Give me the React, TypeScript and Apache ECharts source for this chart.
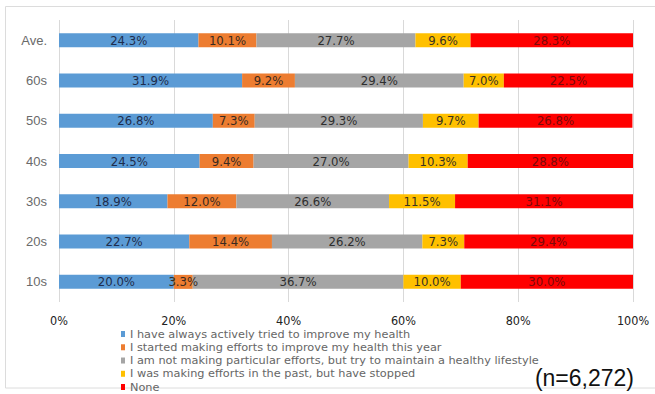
import React, { useEffect, useRef } from "react";
import * as echarts from "echarts";

const categories = ["Ave.", "60s", "50s", "40s", "30s", "20s", "10s"];
const seriesNames = [
  "I have always actively tried to improve my health",
  "I started making efforts to improve my health this year",
  "I am not making particular efforts, but try to maintain a healthy lifestyle",
  "I was making efforts in the past, but have stopped",
  "None",
];
const alwaysActive = [24.3, 31.9, 26.8, 24.5, 18.9, 22.7, 20.0];
const startedThisYear = [10.1, 9.2, 7.3, 9.4, 12.0, 14.4, 3.3];
const notParticular = [27.7, 29.4, 29.3, 27.0, 26.6, 26.2, 36.7];
const stoppedPast = [9.6, 7.0, 9.7, 10.3, 11.5, 7.3, 10.0];
const none = [28.3, 22.5, 26.8, 28.8, 31.1, 29.4, 30.0];
const seriesValues = [alwaysActive, startedThisYear, notParticular, stoppedPast, none];
const colors = ["#5B9BD5", "#ED7D31", "#A5A5A5", "#FFC000", "#FF0000"];
const labelColors = ["#1e2d4d", "#3a2a20", "#2e2e2e", "#3a3220", "#7a0a0a"];
const sampleNote = "(n=6,272)";

export default function App() {
  const ref = useRef<HTMLDivElement>(null);
  useEffect(() => {
    if (!ref.current) return;
    const chart = echarts.init(ref.current, undefined, { renderer: "svg" });
    const labelFont = "'Liberation Sans Narrow', 'Arial Narrow', 'DejaVu Sans Condensed', sans-serif";
    chart.setOption({
      animation: false,
      backgroundColor: "#ffffff",
      grid: { left: 59, right: 22, top: 20, bottom: 92, containLabel: false },
      xAxis: {
        type: "value",
        min: 0,
        max: 100,
        interval: 20,
        axisLine: { show: false },
        axisTick: { show: false },
        splitLine: { show: true, lineStyle: { color: "#d9d9d9", width: 1 } },
        axisLabel: {
          formatter: "{value}%",
          color: "#222222",
          fontSize: 12.5,
          fontFamily: labelFont,
          margin: 12,
        },
      },
      yAxis: {
        type: "category",
        data: categories,
        inverse: true,
        axisLine: { show: false },
        axisTick: { show: false },
        axisLabel: {
          color: "#6a6a6a",
          fontSize: 13,
          fontFamily: "'Liberation Sans', Arial, sans-serif",
          margin: 12,
        },
      },
      legend: {
        orient: "vertical",
        left: 116,
        top: 322.4,
        height: 75,
        itemWidth: 4,
        itemHeight: 6,
        itemGap: 0,
        icon: "rect",
        textStyle: {
          color: "#666666",
          fontSize: 11.3,
          lineHeight: 13.25,
          fontFamily: "'DejaVu Sans', sans-serif",
        },
        data: seriesNames,
      },
      graphic: [
        {
          type: "rect",
          silent: true,
          z: -10,
          shape: { x: 5.5, y: 6.5, width: 700, height: 381.5 },
          style: { fill: "none", stroke: "#dcdcdc", lineWidth: 1 },
        },
        {
          type: "text",
          right: 21,
          top: 366,
          style: {
            text: sampleNote,
            fill: "#111111",
            fontSize: 23,
            fontFamily: "'Liberation Sans', Arial, sans-serif",
          },
        },
      ],
      series: seriesValues.map((vals, i) => ({
        name: seriesNames[i],
        type: "bar",
        stack: "total",
        barWidth: 14,
        data: vals,
        itemStyle: { color: colors[i] },
        label: {
          show: true,
          position: "inside",
          formatter: (p: any) => Number(p.value).toFixed(1) + "%",
          color: labelColors[i],
          fontSize: 13,
          fontFamily: labelFont,
        },
      })),
    });
    return () => chart.dispose();
  }, []);
  return (
    <div
      ref={ref}
      style={{ position: "fixed", left: 0, top: 0, width: 655, height: 394 }}
    />
  );
}
